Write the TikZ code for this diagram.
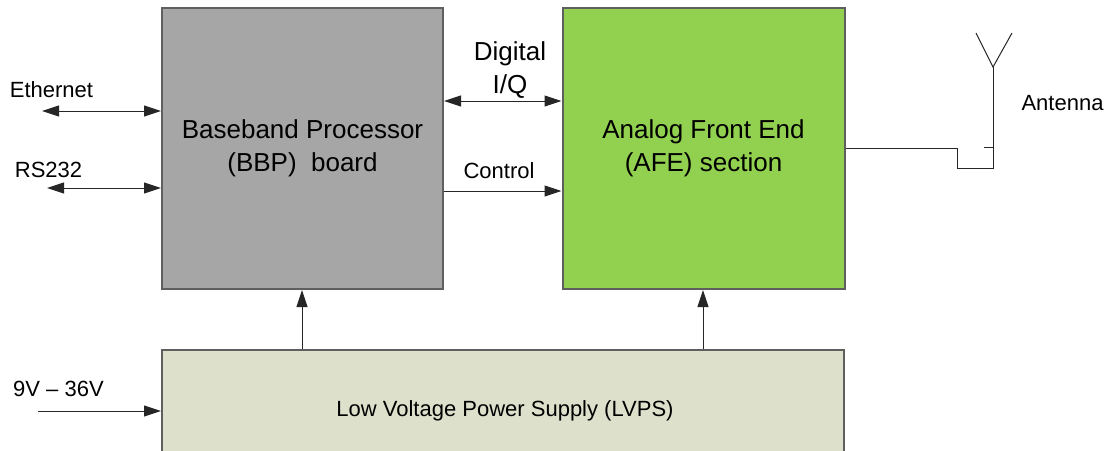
\documentclass[tikz,border=0pt]{standalone}
\usepackage{fontspec}
\setmainfont{Liberation Sans}
\usetikzlibrary{arrows.meta}
\definecolor{bbpfill}{HTML}{A6A6A6}
\definecolor{afefill}{HTML}{92D050}
\definecolor{lvpsfill}{HTML}{DDE1CB}
\definecolor{edgecol}{HTML}{5F5F5F}
\begin{document}
\begin{tikzpicture}[x=1pt,y=-1pt,
  box/.style={draw=edgecol,line width=2pt,inner sep=0pt,align=center},
  lbl/.style={inner sep=0pt,anchor=base,font=\fontsize{22}{26}\selectfont},
  biglbl/.style={inner sep=0pt,anchor=base,font=\fontsize{26}{33}\selectfont},
  big/.style={font=\fontsize{26}{33}\selectfont},
  conn/.style={line width=1pt,draw=black!85},
  tip/.style={-{Triangle[length=17pt,width=11pt]}},
  both/.style={{Triangle[length=17pt,width=11pt]}-{Triangle[length=17pt,width=11pt]}},
  wire/.style={line width=1pt,draw=black!85}
]
\useasboundingbox (0,0) rectangle (1113,450);
% boxes
\node[box,fill=bbpfill,minimum width=281pt,minimum height=281pt,big] (bbp) at (302.5,148.5) {Baseband Processor\\(BBP)~~board};
\node[box,fill=afefill,minimum width=282pt,minimum height=281pt,big] (afe) at (703.5,148.5) {Analog Front End\\(AFE) section};
\node[box,fill=lvpsfill,minimum width=682pt,minimum height=110pt] (lvps) at (503,405) {};
\node[lbl] (lvpstxt) at (505,416) {Low Voltage Power Supply (LVPS)};
% labels
\node[lbl] (ethl) at (51.5,97) {Ethernet};
\node[lbl] (rsl) at (48.5,177) {RS232};
\node[biglbl] (digl) at (510,60) {Digital};
\node[biglbl] (iql) at (510,93) {I/Q};
\node[lbl] (ctll) at (499,178) {Control};
\node[lbl] (vl) at (58.5,396) {9V – 36V};
\node[lbl] (antl) at (1062.5,110) {Antenna};
% coordinates
\coordinate (eth) at (42,111);
\coordinate (rs) at (47,188);
\coordinate (iq) at (500,101);
\coordinate (ctl) at (500,191);
\coordinate (vin) at (38,411);
\coordinate (p1) at (302,0);
\coordinate (p2) at (703,0);
\coordinate (bend1) at (957,148);
\coordinate (bend2) at (957,168);
\coordinate (bend3) at (993,168);
\coordinate (feed) at (993,67);
\coordinate (armL) at (976,33);
\coordinate (armR) at (1012,33);
\coordinate (tickA) at (984,147);
\coordinate (tickB) at (993,147);
% connectors
\draw[conn,both] (eth) -- (eth -| bbp.west);
\draw[conn,both] (rs) -- (rs -| bbp.west);
\draw[conn,both] (iq -| bbp.east) -- (iq -| afe.west);
\draw[conn,tip] (ctl -| bbp.east) -- (ctl -| afe.west);
\draw[conn,tip] (vin) -- (vin -| lvps.west);
\draw[conn,tip] (p1 |- lvps.north) -- (p1 |- bbp.south);
\draw[conn,tip] (p2 |- lvps.north) -- (p2 |- afe.south);
% antenna
\draw[wire] (bend1 -| afe.east) -- (bend1) -- (bend2) -- (bend3) -- (feed);
\draw[wire] (armL) -- (feed) -- (armR);
\draw[wire] (tickA) -- (tickB);
\end{tikzpicture}
\end{document}
